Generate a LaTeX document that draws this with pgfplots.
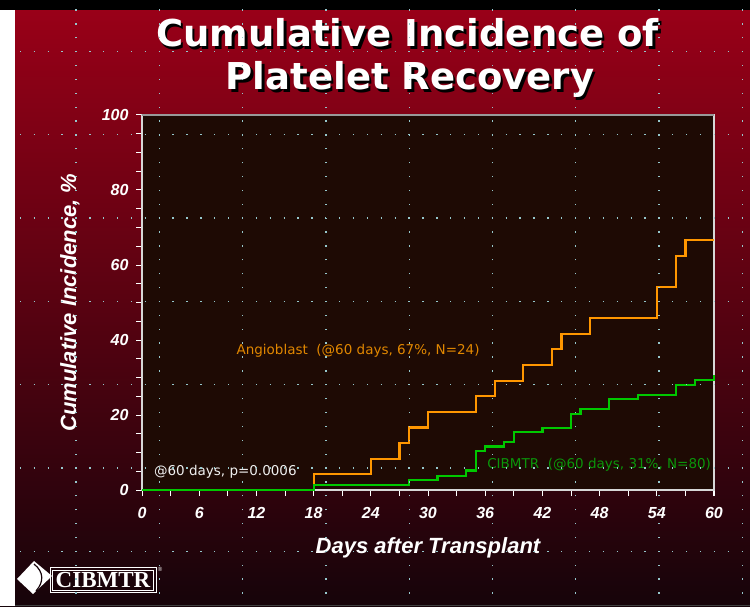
\documentclass[border=0pt]{standalone}
\usepackage{pgfplots}
\usepackage{pgfplotstable}
\pgfplotsset{compat=1.18}
\usepackage{fontspec}
\setmainfont{Liberation Sans}
\newfontfamily\titlefont{DejaVu Sans}
\newfontfamily\notefont{DejaVu Sans}
\newfontfamily\logofont{Liberation Serif}

\definecolor{bgtop}{RGB}{155,0,24}
\definecolor{bgmid}{RGB}{100,0,22}
\definecolor{bgbot}{RGB}{22,4,10}
\definecolor{plotbg}{RGB}{30,10,4}
\definecolor{angioline}{RGB}{255,150,0}
\definecolor{angiotext}{RGB}{225,135,0}
\definecolor{cibline}{RGB}{0,200,0}
\definecolor{cibtext}{RGB}{10,150,10}
\definecolor{griddot}{RGB}{150,200,205}
\definecolor{axisgray}{RGB}{215,215,215}

\newcommand{\shadowtext}[1]{\rlap{\kern2.5pt\raisebox{-2.5pt}{\textcolor{black}{#1}}}\textcolor{white}{#1}}

\pgfplotstableread{
day inc
0 0
18 4.17
24 8.33
27 12.5
28 16.67
30 20.83
35 25.0
37 29.17
40 33.33
43 37.5
44 41.67
47 45.83
54 54.17
56 62.5
57 66.67
60 66.67
}\angioblast

\pgfplotstableread{
day inc
0 0
18 1.3
28 2.6
31 3.7
34 5.2
35 10.4
36 11.6
38 12.8
39 15.4
42 16.5
45 20.3
46 21.5
49 24.3
52 25.3
56 28.0
58 29.3
60 30.8
}\cibmtr

\begin{document}
\begin{tikzpicture}
\useasboundingbox (0,0) rectangle (750pt,606pt);
% slide background
\shade[top color=bgtop, middle color=bgmid, bottom color=bgbot] (0,0) rectangle (750pt,606pt);
\fill[black] (0,596pt) rectangle (750pt,606pt);
\fill[white] (0,0) rectangle (15pt,596pt);
\fill[black!75] (15pt,0) rectangle (750pt,1pt);

% title with shadow
\node[anchor=base, inner sep=0, font=\titlefont\bfseries\fontsize{37}{40}\selectfont] at (407.5pt,559pt) {\shadowtext{Cumulative Incidence of}};
\node[anchor=base, inner sep=0, font=\titlefont\bfseries\fontsize{37}{40}\selectfont] at (410pt,516pt) {\shadowtext{Platelet Recovery}};

\begin{axis}[
  at={(142pt,116pt)}, anchor=south west,
  scale only axis, width=572pt, height=375pt,
  xmin=0, xmax=60, ymin=0, ymax=100,
  xtick={0,6,...,60}, minor xtick={3,9,...,57},
  ytick={0,20,...,100}, minor ytick={5,10,...,95},
  tick pos=left, tick align=outside,
  major tick length=6pt, minor tick length=6pt,
  tick style={white, line width=1pt},
  axis line style={axisgray, line width=1.2pt},
  axis background/.style={fill=plotbg},
  ticklabel style={white, font=\bfseries\itshape\fontsize{16}{16}\selectfont},
  /pgf/number format/assume math mode=true,
  xticklabel style={yshift=-8pt},
  yticklabel style={xshift=-4pt},
  xlabel={Days after Transplant},
  ylabel={Cumulative Incidence, \%},
  label style={white, font=\bfseries\itshape\fontsize{22}{22}\selectfont},
  xlabel style={at={(axis description cs:0.5,-0.154)}, anchor=center},
  ylabel style={at={(axis description cs:-0.126,0.5)}, anchor=center},
  clip=false,
]
\draw[gray!80, line width=1.2pt] (rel axis cs:0,1) -- (rel axis cs:1,1);
\addplot[const plot, angioline, line width=2.2pt] table[x=day,y=inc] {\angioblast};
\addplot[const plot, cibline, line width=2.2pt] table[x=day,y=inc] {\cibmtr};
\node[anchor=west, inner sep=0, text=angiotext, font=\notefont\fontsize{13.5}{14}\selectfont] at (axis cs:9.9,37.1) {Angioblast\ \ (@60 days, 67\%, N=24)};
\node[anchor=west, inner sep=0, text=cibtext, font=\notefont\fontsize{13.5}{14}\selectfont] at (axis cs:36.2,6.7) {CIBMTR\ \ (@60 days, 31\%, N=80)};
\node[anchor=west, inner sep=0, text=white!88!gray, font=\notefont\fontsize{13.5}{14}\selectfont] at (axis cs:1.25,4.9) {@60 days, p=0.0006};
\end{axis}

% logo
\fill[white] (17pt,27pt) -- (34pt,45pt) -- (52pt,30pt) -- (33pt,12pt) -- cycle;
\draw[bgbot, line width=1.2pt] (34pt,42pt) .. controls (44pt,34pt) and (44pt,24pt) .. (36pt,15pt);
\draw[white, line width=1pt] (50pt,13.3pt) rectangle (156pt,38.3pt);
\draw[white, line width=0.5pt] (52.5pt,15.8pt) rectangle (153.5pt,35.8pt);
\node[text=white, inner sep=0, font=\logofont\bfseries\fontsize{23}{23}\selectfont] at (103pt,26pt) {CIBMTR};
\node[text=white, inner sep=0, font=\fontsize{6}{6}\selectfont] at (160pt,37pt) {\textregistered};

% slide grid dots
\begin{scope}
\clip (15pt,1pt) rectangle (750pt,596pt);
\begin{scope}[griddot, line width=1.3pt, dash pattern=on 1.3pt off 12.58pt, dash phase=0.65pt]
\foreach \gy in {554.5,471.2,387.9,304.6,221.3,138.0,54.7}
  \draw (-7.3pt,\gy pt) -- (760pt,\gy pt);
\foreach \gx in {76.0,159.3,242.6,325.9,409.2,492.5,575.8,659.1,742.4}
  \draw (\gx pt,-28.6pt) -- (\gx pt,610pt);
\end{scope}
\end{scope}
\end{tikzpicture}
\end{document}
